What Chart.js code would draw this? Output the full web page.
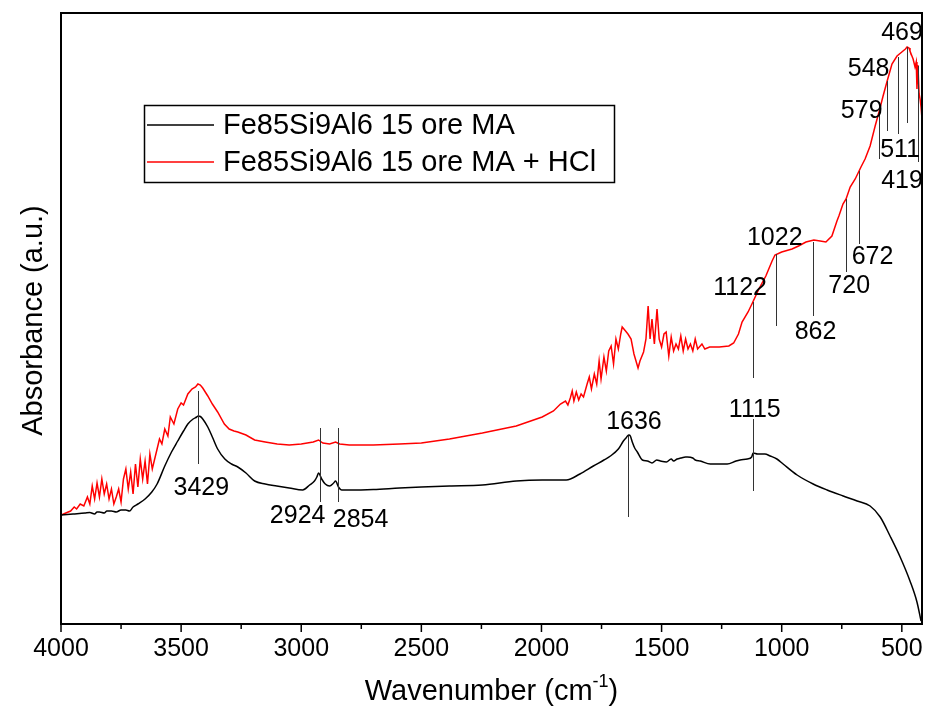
<!DOCTYPE html>
<html><head><meta charset="utf-8">
<script src="https://cdn.jsdelivr.net/npm/chart.js@4.4.1/dist/chart.umd.min.js"></script>
<style>html,body{margin:0;padding:0;background:#fff}#wrap{width:927px;height:709px}</style>
</head><body><div id="wrap"><canvas id="c" width="927" height="709"></canvas></div>
<script>
const seriesNames = ['Fe85Si9Al6 15 ore MA', 'Fe85Si9Al6 15 ore MA + HCl'];

const blackWn = [4000,3950,3900,3880,3860,3850,3840,3820,3809,3790,3770,3750,3730,3715,3700,3680,3650,3622,3600,3568,3540,3514,3490,3472,3450,3435,3429,3420,3410,3389,3370,3348,3318,3290,3264,3230,3194,3150,3102,3050,2994,2965,2945,2935,2928,2915,2900,2882,2865,2857,2845,2832,2800,2700,2591,2500,2383,2246,2105,1997,1897,1840,1784,1740,1713,1680,1659,1648,1642,1636,1630,1622,1612,1601,1580,1559,1540,1520,1505,1480,1460,1450,1435,1420,1400,1393,1370,1360,1339,1297,1227,1190,1173,1143,1125,1119,1100,1070,1048,1020,994,936,869,811,744,686,632,590,549,507,466,437,420];
const blackAbs = [109,110,111,111.5,110,112,112,111,113,113,112,114,114,113,117,120,125,132,140,158,172,183,193,200,205,207,208,207.5,205,197,187,175,165,160,157,151,143,140,138,136,134,139,143,147,151,145,140,138,141,143,137,134,134,134.5,136,137,138,139,143,144,144,150,158,164,168,175,183,186,188,189,188,182,176,172,164,163,161,164,163,162,165,163,165,166,167,167,166,164,163,160,160,163,164,165,167,171,170,170,168,165,160,149,140,134,128,123,118,107,88,67,43,22,3];

const redWn = [4000,3980,3960,3945,3935,3920,3905,3890,3880,3870,3860,3850,3840,3830,3820,3810,3800,3790,3780,3770,3760,3750,3740,3730,3720,3710,3700,3690,3680,3670,3660,3650,3640,3630,3620,3600,3590,3580,3568,3555,3545,3530,3514,3500,3490,3472,3455,3440,3430,3420,3410,3389,3370,3348,3320,3300,3280,3264,3230,3194,3150,3100,3050,3000,2950,2928,2910,2882,2857,2840,2800,2700,2591,2500,2383,2246,2105,1997,1950,1921,1900,1890,1880,1872,1865,1855,1845,1835,1825,1810,1801,1792,1780,1770,1760,1752,1740,1730,1720,1710,1700,1690,1680,1670,1664,1650,1640,1627,1615,1598,1590,1575,1565,1556,1548,1540,1530,1519,1510,1500,1490,1481,1470,1460,1450,1440,1430,1420,1410,1400,1390,1380,1370,1360,1350,1332,1320,1300,1260,1220,1200,1180,1165,1140,1124,1095,1066,1040,1028,1000,957,930,899,866,840,816,791,770,762,745,732,715,694,678,670,653,632,611,595,578,561,541,520,505,495,485,478,470,466,458,453,445,440,437,433,428,424,420,416];
const redAbs = [109,111,113,117,115,120,118,127,120,138,125,141,127,145,130,140,125,135,120,127,135,122,145,155,135,152,130,160,137,165,145,163,140,170,155,175,185,180,195,188,207,200,215,221,219,230,235,237,240,239,236,228,220,212,200,195,193,192,189,184,182,180,179,180,182,184,181,180,182,180,179,179,180,181,185,191,198,207,213,220,223,219,226,233,223,232,224,230,227,240,247,235,250,240,263,245,267,253,273,278,260,285,275,290,297,293,290,285,270,256,263,272,285,318,285,305,280,315,285,277,290,292,268,287,273,280,275,288,273,285,275,280,273,285,275,280,275,277,277,278,281,290,302,312,320,335,348,363,369,372,375,378,382,384,383,382,388,403,408,420,425,437,445,453,457,465,478,498,512,528,543,560,568,571,573,575,577,576,573,568,565,557,562,535,559,530,525,517,505];

const tickValues = [4000,3500,3000,2500,2000,1500,1000,500];
const minorTickValues = [3750,3250,2750,2250,1750,1250,750];

const peakText      = ['3429','2924','2854','1636','1115','1122','1022','862','720','672','579','548','511','469','419'];
const peakLineWn    = [3428,2923,2848,1638,1119,1119,1023,869,732,678,595,561,516,478,432];
const peakLineTop   = [233,196,196,188,205,322,370,382,425,453,512,543,567,577,558];
const peakLineBot   = [160,122,122,107,133,246,298,308,352,380,465,493,490,501,462];
const peakLabelWn   = [3416,3015,2753,1615,1112,1173,1029,859,719,622,667,638,507,499,499];
const peakLabelAbs  = [136,108,104,202,214,336,386,292,338,367,513,555,474,591,443];

const xMin = 416, xMax = 4000, yMin = 0, yMax = 611;

const FONT = '"Liberation Sans", Arial, Helvetica, sans-serif';

const deco = {
  id: 'deco',
  afterDraw(chart) {
    const ctx = chart.ctx, a = chart.chartArea, xs = chart.scales.x, ys = chart.scales.y;
    ctx.save();
    ctx.strokeStyle = '#333'; ctx.lineWidth = 1;
    for (let i = 0; i < peakText.length; i++) {
      const px = Math.round(xs.getPixelForValue(peakLineWn[i])) + 0.5;
      ctx.beginPath();
      ctx.moveTo(px, ys.getPixelForValue(peakLineTop[i]));
      ctx.lineTo(px, ys.getPixelForValue(peakLineBot[i]));
      ctx.stroke();
    }
    ctx.fillStyle = '#000'; ctx.font = '25px ' + FONT;
    ctx.textAlign = 'center'; ctx.textBaseline = 'middle';
    for (let i = 0; i < peakText.length; i++) {
      ctx.fillText(peakText[i], xs.getPixelForValue(peakLabelWn[i]), ys.getPixelForValue(peakLabelAbs[i]));
    }
    ctx.strokeStyle = '#000'; ctx.lineWidth = 2;
    ctx.strokeRect(a.left, a.top, a.right - a.left, a.bottom - a.top);
    ctx.lineWidth = 1.5;
    ctx.font = '25px ' + FONT; ctx.textAlign = 'center'; ctx.textBaseline = 'middle';
    tickValues.forEach(v => {
      const px = xs.getPixelForValue(v);
      ctx.beginPath(); ctx.moveTo(px, a.bottom); ctx.lineTo(px, a.bottom + 8); ctx.stroke();
      ctx.fillText(String(v), px, a.bottom + 25);
    });
    minorTickValues.forEach(v => {
      const px = xs.getPixelForValue(v);
      ctx.beginPath(); ctx.moveTo(px, a.bottom); ctx.lineTo(px, a.bottom + 5); ctx.stroke();
    });
    const lx = 144, ly = 105, lw = 470, lh = 77;
    ctx.lineWidth = 1.5; ctx.strokeStyle = '#000';
    ctx.strokeRect(lx + 0.5, ly + 0.5, lw, lh);
    const ds = chart.data.datasets;
    [125, 162].forEach((yy, i) => {
      ctx.strokeStyle = ds[i].borderColor; ctx.lineWidth = 1.5;
      ctx.beginPath(); ctx.moveTo(147, yy); ctx.lineTo(214, yy); ctx.stroke();
      ctx.fillStyle = '#000'; ctx.font = '29px ' + FONT;
      ctx.textAlign = 'left'; ctx.textBaseline = 'middle';
      ctx.fillText(ds[i].label, 223, yy + 1);
    });
    ctx.font = '29px ' + FONT; ctx.textBaseline = 'alphabetic'; ctx.textAlign = 'left';
    const t1 = 'Wavenumber (cm', t2 = '-1', t3 = ')';
    const supFont = '18px ' + FONT;
    const w1 = ctx.measureText(t1).width;
    ctx.font = supFont; const w2 = ctx.measureText(t2).width;
    ctx.font = '29px ' + FONT; const w3 = ctx.measureText(t3).width;
    const cx = (a.left + a.right) / 2;
    let sx = cx - (w1 + w2 + w3) / 2; const base = 700;
    ctx.fillText(t1, sx, base);
    ctx.font = supFont; ctx.fillText(t2, sx + w1, base - 13);
    ctx.font = '29px ' + FONT; ctx.fillText(t3, sx + w1 + w2, base);
    ctx.save();
    ctx.translate(34, (a.top + a.bottom) / 2 + 2);
    ctx.rotate(-Math.PI / 2);
    ctx.textAlign = 'center'; ctx.textBaseline = 'middle';
    ctx.font = '29px ' + FONT;
    ctx.fillText('Absorbance (a.u.)', 0, 0);
    ctx.restore();
    ctx.restore();
  }
};

const toXY = (xs, ys) => xs.map((x, i) => ({x: x, y: ys[i]}));

new Chart(document.getElementById('c'), {
  type: 'line',
  data: {
    datasets: [
      {label: seriesNames[0], data: toXY(blackWn, blackAbs), borderColor: '#000000', borderWidth: 1.5, pointRadius: 0, cubicInterpolationMode: 'monotone', fill: false},
      {label: seriesNames[1], data: toXY(redWn, redAbs), borderColor: '#ff0000', borderWidth: 1.5, pointRadius: 0, tension: 0, fill: false}
    ]
  },
  options: {
    responsive: false, animation: false, devicePixelRatio: 1,
    layout: {padding: {left: 61, right: 5, top: 13, bottom: 0}},
    plugins: {legend: {display: false}, tooltip: {enabled: false}},
    scales: {
      x: {
        type: 'linear', reverse: true, min: xMin, max: xMax,
        grid: {display: false, drawTicks: false},
        border: {display: false},
        afterFit: s => { s.height = 85; },
        ticks: {display: false}
      },
      y: {display: false, min: yMin, max: yMax}
    }
  },
  plugins: [deco]
});
</script></body></html>
